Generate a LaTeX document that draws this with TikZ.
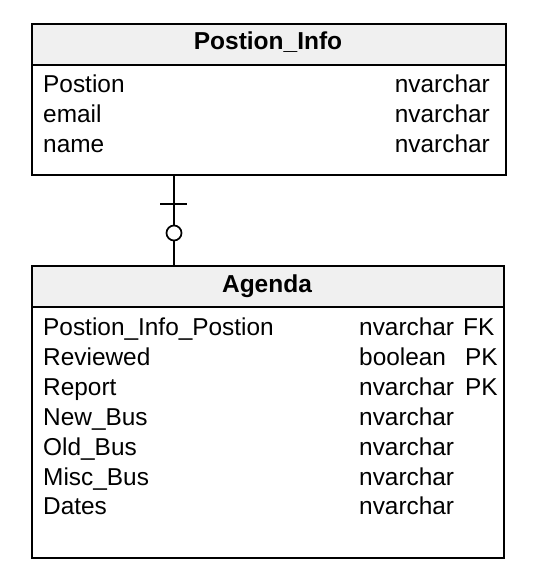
\documentclass[tikz,border=0pt]{standalone}
\usepackage{fontspec}
\setmainfont{Liberation Sans}

\definecolor{headgray}{HTML}{F0F0F0}

\tikzset{
  tblhead/.style={draw, line width=1.7pt, fill=headgray, anchor=north west, inner sep=0pt,
    minimum height=41pt},
  tblbody/.style={draw, line width=1.7pt, fill=white, anchor=north west, inner sep=0pt},
  tbltitle/.style={anchor=base, inner sep=0pt, font=\bfseries\fontsize{24.5}{28}\selectfont},
  fld/.style={anchor=base west, inner sep=0pt, font=\fontsize{24.4}{28}\selectfont},
  fldr/.style={anchor=base east, inner sep=0pt, font=\fontsize{24.4}{28}\selectfont},
}

\begin{document}
\begin{tikzpicture}[x=1pt, y=-1pt]

  \useasboundingbox (0,0) rectangle (533,580);

  % Postion_Info table
  \node[tblbody, minimum width=474pt, minimum height=110pt] (info_body) at (31,64) {};
  \node[tblhead, minimum width=474pt] (info_head) at (31,23) {};
  \node[tbltitle] (info_title) at (268,50) {Postion\_Info};

  \node[fld] (i1) at (43,93) {Postion};
  \node[fldr] (i1t) at (490,93) {nvarchar};
  \node[fld] (i2) at (43,123) {email};
  \node[fldr] (i2t) at (490,123) {nvarchar};
  \node[fld] (i3) at (43,153) {name};
  \node[fldr] (i3t) at (490,153) {nvarchar};

  % Agenda table
  \node[tblbody, minimum width=472pt, minimum height=251pt] (agenda_body) at (31,306) {};
  \node[tblhead, minimum width=472pt] (agenda_head) at (31,265) {};
  \node[tbltitle] (agenda_title) at (267,292) {Agenda};

  \node[fld] (a1) at (43,335) {Postion\_Info\_Postion};
  \node[fld] (a1t) at (359,335) {nvarchar};
  \node[fld] (a1k) at (463,335) {FK};
  \node[fld] (a2) at (43,365) {Reviewed};
  \node[fld] (a2t) at (359,365) {boolean};
  \node[fld] (a2k) at (465,365) {PK};
  \node[fld] (a3) at (43,395) {Report};
  \node[fld] (a3t) at (359,395) {nvarchar};
  \node[fld] (a3k) at (465,395) {PK};
  \node[fld] (a4) at (43,425) {New\_Bus};
  \node[fld] (a4t) at (359,425) {nvarchar};
  \node[fld] (a5) at (43,455) {Old\_Bus};
  \node[fld] (a5t) at (359,455) {nvarchar};
  \node[fld] (a6) at (43,485) {Misc\_Bus};
  \node[fld] (a6t) at (359,485) {nvarchar};
  \node[fld] (a7) at (43,514) {Dates};
  \node[fld] (a7t) at (359,514) {nvarchar};

  % one-to-zero-or-one link
  \coordinate (cx) at (174,0);
  \node[circle, draw, line width=1.7pt, minimum size=15pt, inner sep=0pt] (opt) at (174,233) {};
  \coordinate (tick_l) at (160,204);
  \coordinate (tick_r) at (187,204);

  \draw[line width=1.7pt] (info_body.south -| cx) -- (opt.north);
  \draw[line width=1.7pt] (opt.south) -- (agenda_head.north -| cx);
  \draw[line width=1.7pt] (tick_l) -- (tick_r);

\end{tikzpicture}
\end{document}
